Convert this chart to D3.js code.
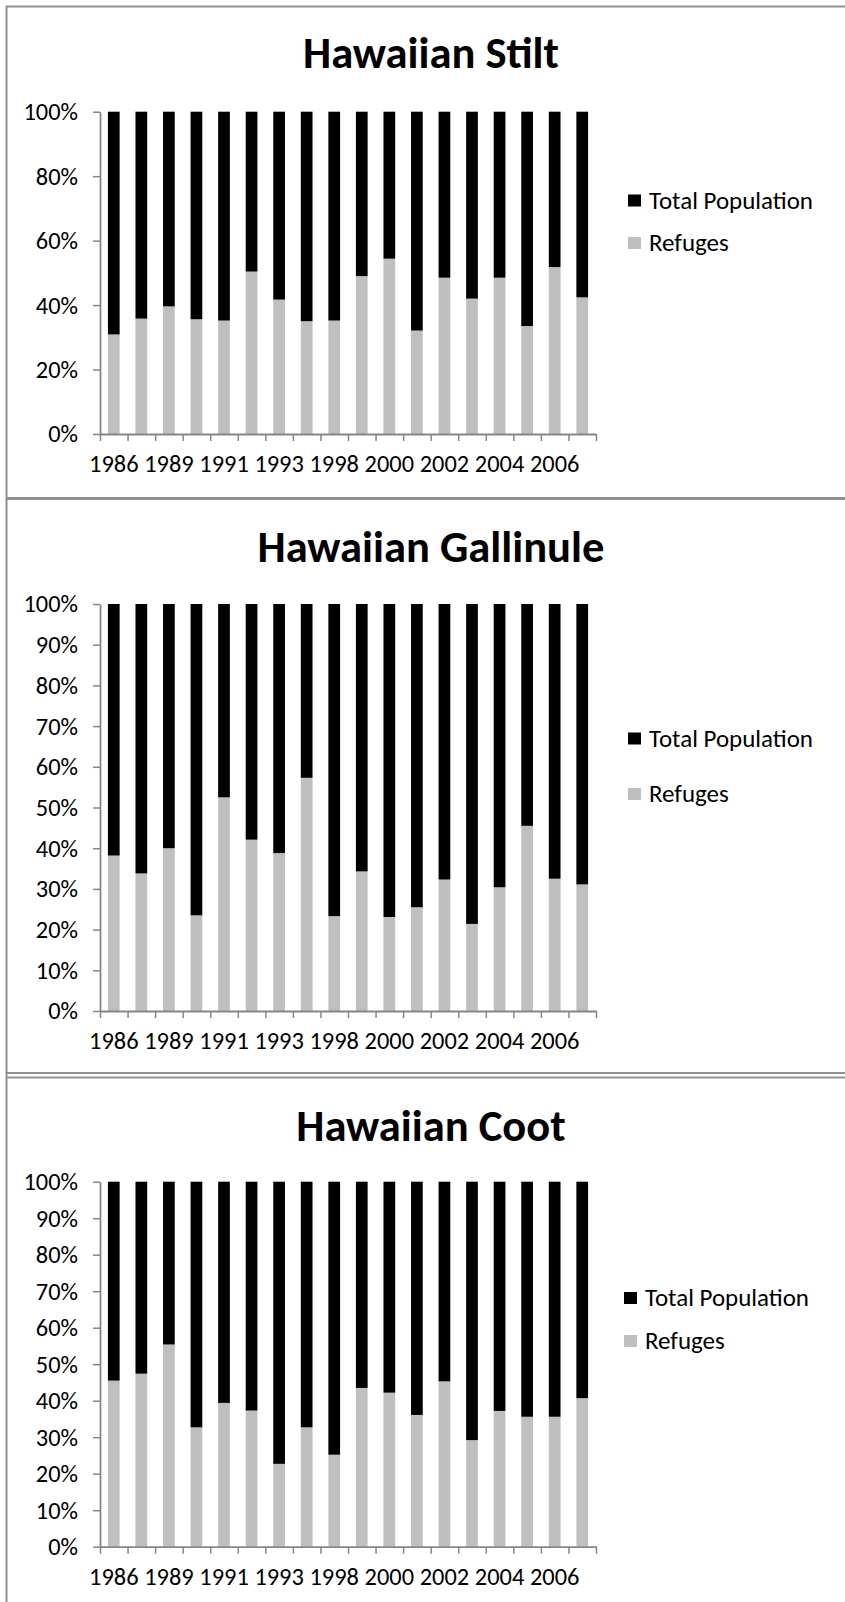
<!DOCTYPE html>
<html><head><meta charset="utf-8">
<script src="https://cdn.jsdelivr.net/npm/d3@7"></script>
<style>html,body{margin:0;padding:0;background:#fff;} svg{display:block}</style>
</head><body>
<svg id="chart" width="845" height="1602"></svg>
<script>
// ---------------- DATA ----------------
const categories = ["1986","1988","1989","1990","1991","1992","1993","1997","1998","1999","2000","2001","2002","2003","2004","2005","2006","2007"];
const xTickLabels = ["1986","1989","1991","1993","1998","2000","2002","2004","2006"];
const seriesNames = ["Refuges","Total Population"];
const seriesColors = ["#bfbfbf","#000000"];

const stiltRefuges = [30.9,35.8,39.6,35.6,35.2,50.4,41.7,35.0,35.2,49.0,54.4,32.1,48.5,42.0,48.5,33.5,51.8,42.4];
const stiltTotal   = [69.1,64.2,60.4,64.4,64.8,49.6,58.3,65.0,64.8,51.0,45.6,67.9,51.5,58.0,51.5,66.5,48.2,57.6];
const gallinuleRefuges = [38.2,33.8,40.0,23.5,52.5,42.1,38.8,57.3,23.3,34.3,23.1,25.5,32.3,21.4,30.4,45.5,32.5,31.1];
const gallinuleTotal   = [61.8,66.2,60.0,76.5,47.5,57.9,61.2,42.7,76.7,65.7,76.9,74.5,67.7,78.6,69.6,54.5,67.5,68.9];
const cootRefuges = [45.5,47.4,55.4,32.7,39.4,37.3,22.7,32.7,25.2,43.5,42.2,36.1,45.3,29.2,37.2,35.6,35.6,40.7];
const cootTotal   = [54.5,52.6,44.6,67.3,60.6,62.7,77.3,67.3,74.8,56.5,57.8,63.9,54.7,70.8,62.8,64.4,64.4,59.3];

const yTicksTwenty = [0,20,40,60,80,100];
const yTicksTen = [0,10,20,30,40,50,60,70,80,90,100];

const titles = ["Hawaiian Stilt","Hawaiian Gallinule","Hawaiian Coot"];

// ---------------- LAYOUT ----------------
const FONT = "Carlito, Calibri, Lato, sans-serif";
const svg = d3.select("#chart");
const AXIS = "#868686";
const BORDER = "#8f8f8f";

const canvas = document.createElement("canvas").getContext("2d");
function capRatio(weight){ canvas.font = `${weight} 100px ${FONT}`; return canvas.measureText("H").actualBoundingBoxAscent/100; }
function fit(text, weight, target){
  const t = svg.append("text").attr("font-family",FONT).attr("font-weight",weight).attr("font-size",100).text(text);
  const w = t.node().getComputedTextLength(); t.remove();
  return 100*target/w;
}
const tickFont = fit("1986","normal",49.5);
const legendFont = fit("Total Population","normal",164);
const titleFont = fit("Hawaiian Stilt","bold",256);
const capN = capRatio("normal"), capB = capRatio("bold");

const plotLeft = 100, plotRight = 596;
const x = d3.scaleBand().domain(categories).range([plotLeft, plotRight]).paddingInner(0.575).paddingOuter(0.2875);
const xb = d3.scaleLinear().domain([0, categories.length]).range([plotLeft, plotRight]);

const panels = [
  {title: titles[0], ref: stiltRefuges, tot: stiltTotal, ticks: yTicksTwenty, top: 111.7, bottom: 434, titleY: 54, legY: [200.5, 243], legX: 628, txtX: 649},
  {title: titles[1], ref: gallinuleRefuges, tot: gallinuleTotal, ticks: yTicksTen, top: 604, bottom: 1011, titleY: 548, legY: [738.5, 794], legX: 628, txtX: 649},
  {title: titles[2], ref: cootRefuges, tot: cootTotal, ticks: yTicksTen, top: 1181.7, bottom: 1546.7, titleY: 1127, legY: [1298, 1341], legX: 624, txtX: 645}
];

// borders
const borders = svg.append("g").attr("fill","none").attr("stroke",BORDER);
borders.append("line").attr("x1",6.5).attr("x2",6.5).attr("y1",6).attr("y2",1602).attr("stroke-width",2);
borders.append("line").attr("x1",6).attr("x2",845).attr("y1",6.5).attr("y2",6.5).attr("stroke-width",2);
borders.append("line").attr("x1",6).attr("x2",845).attr("y1",498.5).attr("y2",498.5).attr("stroke-width",3);
borders.append("line").attr("x1",6).attr("x2",845).attr("y1",1073).attr("y2",1073).attr("stroke-width",2);
borders.append("line").attr("x1",6).attr("x2",845).attr("y1",1077.5).attr("y2",1077.5).attr("stroke-width",2);

panels.forEach(p => {
  const g = svg.append("g");
  const y = d3.scaleLinear().domain([0,100]).range([p.bottom, p.top]);
  const rows = categories.map((c,i) => ({cat: c, "Refuges": p.ref[i], "Total Population": p.tot[i]}));
  const stacked = d3.stack().keys(seriesNames)(rows);

  g.selectAll("g.layer").data(stacked).join("g").attr("class","layer")
    .attr("fill",(d,i)=>seriesColors[i])
    .selectAll("rect").data(d=>d).join("rect")
    .attr("x", d=>x(d.data.cat)).attr("width", x.bandwidth())
    .attr("y", d=>y(d[1])).attr("height", d=>y(d[0])-y(d[1]));

  // y axis
  const ya = g.append("g").attr("transform",`translate(${plotLeft},0)`)
    .call(d3.axisLeft(y).tickValues(p.ticks).tickFormat(d=>d+"%").tickSize(7).tickSizeOuter(0).tickPadding(15));
  ya.select(".domain").attr("stroke",AXIS).attr("stroke-width",1.8);
  ya.selectAll(".tick line").attr("stroke",AXIS).attr("stroke-width",1.5);
  ya.selectAll("text").attr("font-family",FONT).attr("font-size",tickFont).attr("fill","#000").attr("dy",(capN/2)+"em");
  ya.attr("font-size",null).attr("font-family",null);

  // x axis tick marks at category boundaries
  const xt = g.append("g").attr("transform",`translate(0,${p.bottom})`)
    .call(d3.axisBottom(xb).tickValues(d3.range(categories.length+1)).tickFormat("").tickSize(7).tickSizeOuter(0));
  xt.select(".domain").attr("stroke",AXIS).attr("stroke-width",1.8);
  xt.selectAll(".tick line").attr("stroke",AXIS).attr("stroke-width",1.5);

  // x labels
  const xl = g.append("g").attr("transform",`translate(0,${p.bottom})`)
    .call(d3.axisBottom(x).tickValues(xTickLabels).tickSize(0));
  xl.select(".domain").remove();
  xl.selectAll("text").attr("font-family",FONT).attr("font-size",tickFont).attr("fill","#000")
    .attr("y",30).attr("dy",(capN/2)+"em");
  xl.attr("font-size",null).attr("font-family",null);

  // title
  g.append("text").attr("x",431).attr("y",p.titleY + capB*titleFont/2)
    .attr("text-anchor","middle").attr("font-family",FONT).attr("font-weight","bold")
    .attr("font-size",titleFont).attr("fill","#000").text(p.title);

  // legend (Total Population first, then Refuges)
  const legendOrder = [1,0];
  legendOrder.forEach((si,k) => {
    const ly = p.legY[k];
    g.append("rect").attr("x",p.legX).attr("y",ly-6).attr("width",13).attr("height",12).attr("fill",seriesColors[si]);
    g.append("text").attr("x",p.txtX).attr("y",ly + capN*legendFont/2)
      .attr("font-family",FONT).attr("font-size",legendFont).attr("fill","#000").text(seriesNames[si]);
  });
});
</script>
</body></html>
